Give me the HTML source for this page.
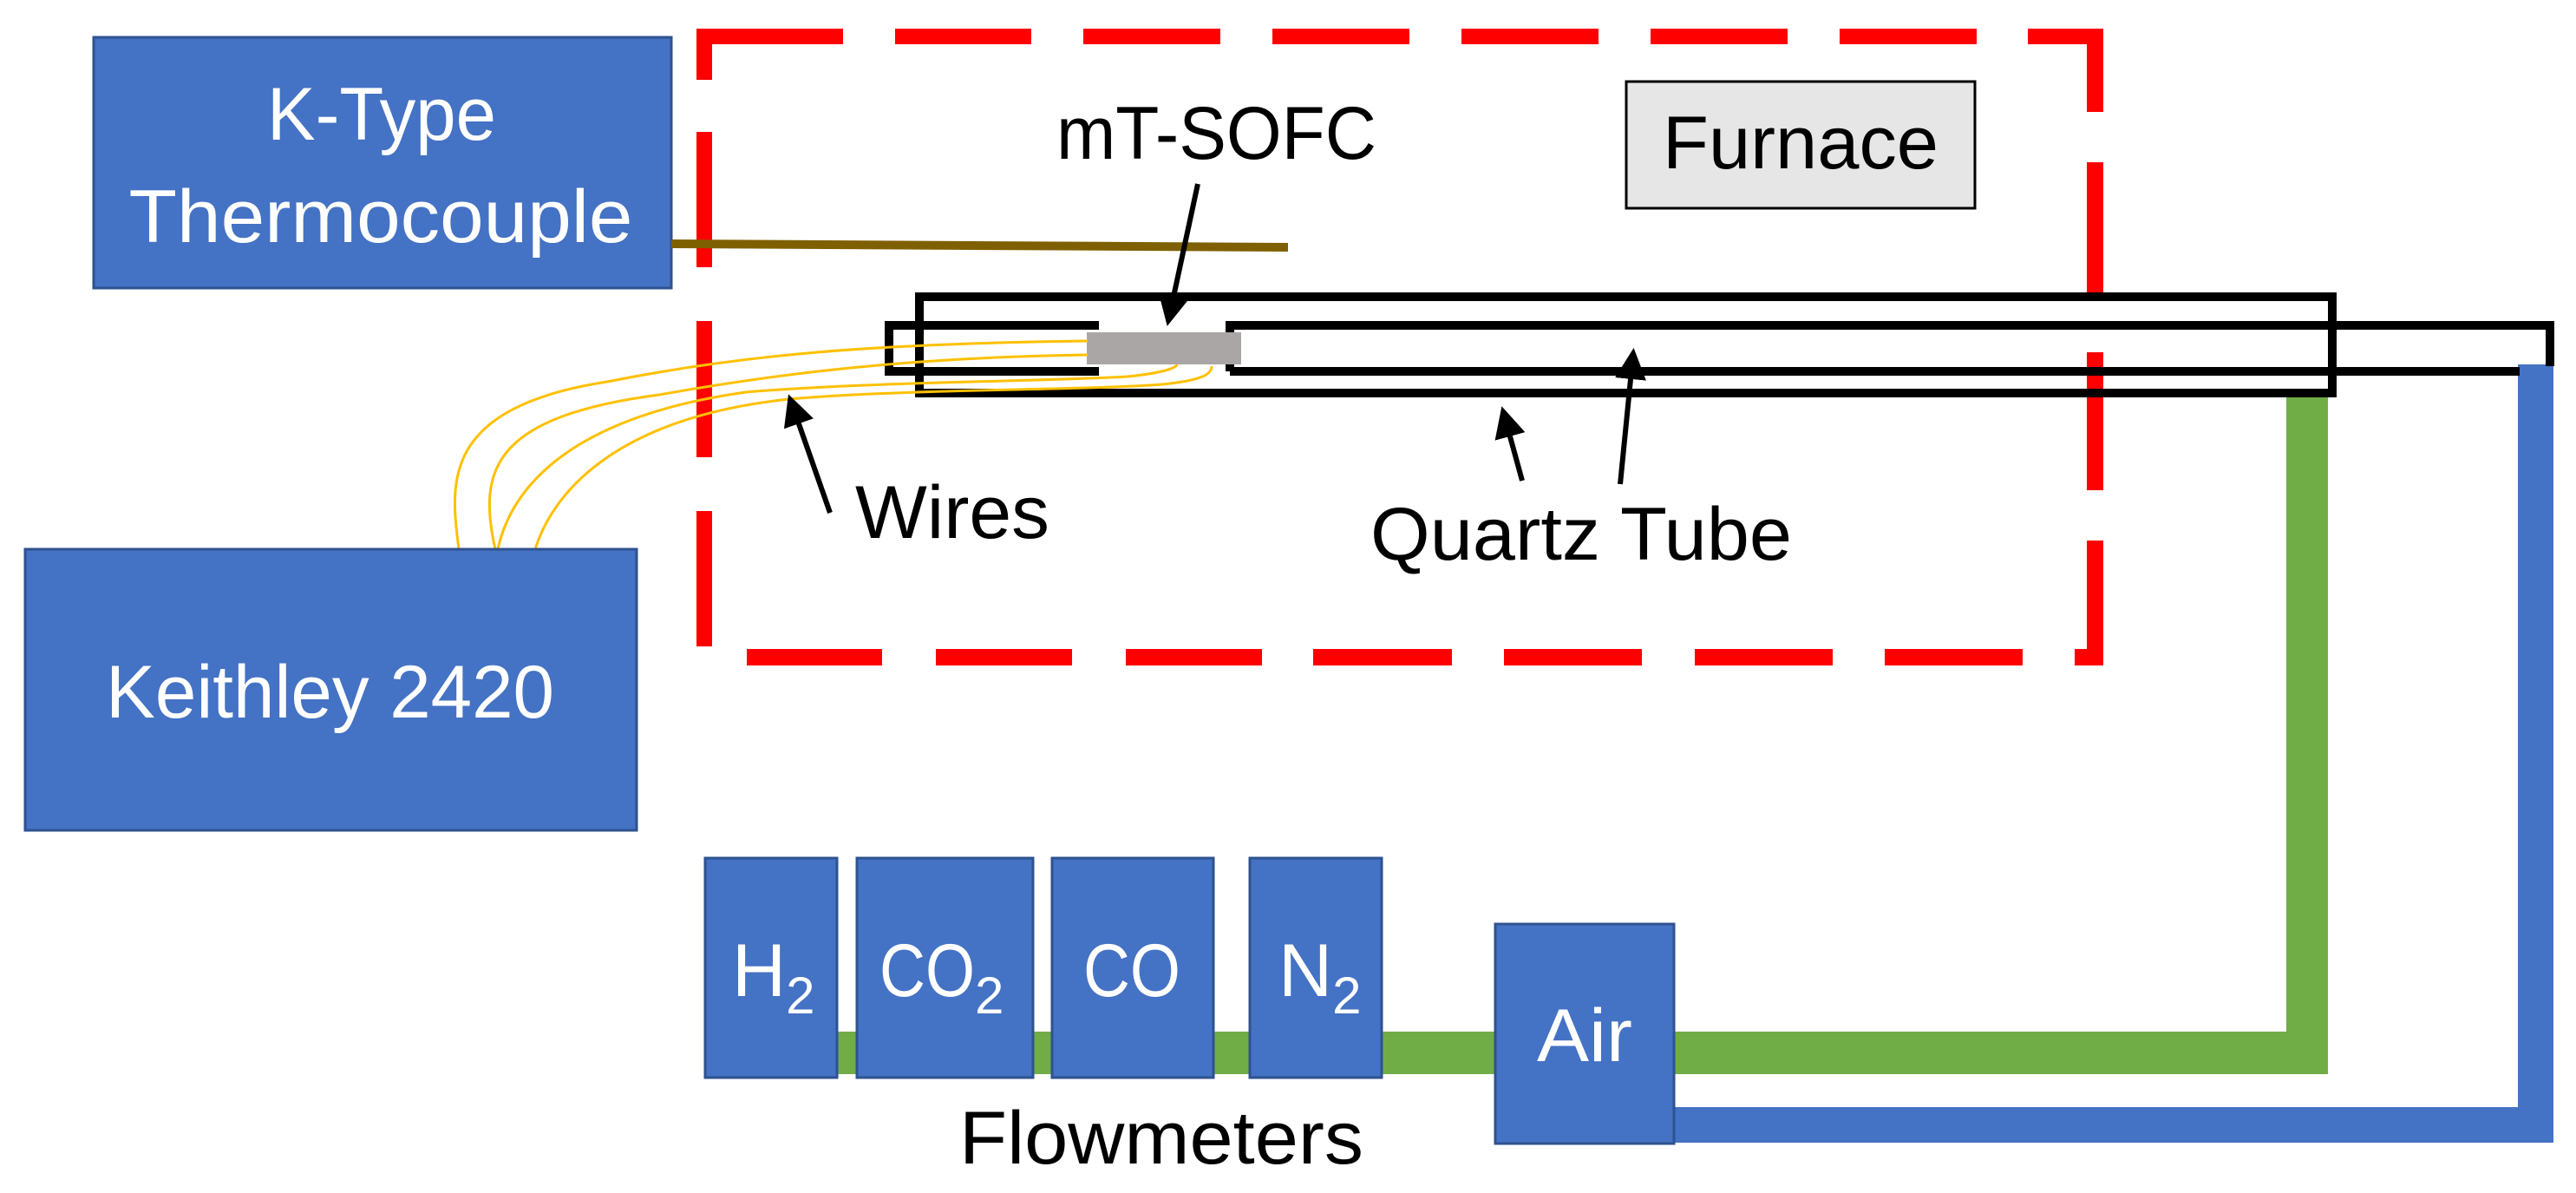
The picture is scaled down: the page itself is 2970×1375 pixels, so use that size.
<!DOCTYPE html>
<html><head><meta charset="utf-8"><style>
html,body{margin:0;padding:0;background:#fff;}
svg{display:block;}
text{font-family:"Liberation Sans",sans-serif;}
</style></head><body>
<svg width="2970" height="1375" viewBox="0 0 2970 1375" xmlns="http://www.w3.org/2000/svg">
<defs>
<marker id="ah" markerWidth="6" markerHeight="6" refX="5" refY="3" orient="auto" markerUnits="strokeWidth">
<path d="M0,0 L6,3 L0,6 Z" fill="#000"/></marker>
</defs>
<!-- pipes -->
<rect x="965" y="1189" width="1719" height="49" fill="#70ad47"/>
<rect x="2636" y="452" width="48" height="786" fill="#70ad47"/>
<rect x="1930" y="1276" width="1014" height="41" fill="#4472c4"/>
<rect x="2903" y="420" width="41" height="897" fill="#4472c4"/>

<!-- red dashed furnace -->
<g fill="#ff0000">
<rect x="804" y="33" width="168" height="18"/>
<rect x="1032" y="33" width="157" height="18"/>
<rect x="1249" y="33" width="158" height="18"/>
<rect x="1467" y="33" width="158" height="18"/>
<rect x="1685" y="33" width="158" height="18"/>
<rect x="1903" y="33" width="158" height="18"/>
<rect x="2121" y="33" width="158" height="18"/>
<rect x="2338" y="33" width="87" height="18"/>
<rect x="2406" y="33" width="19" height="96"/>
<rect x="2406" y="187" width="19" height="159"/>
<rect x="2406" y="406" width="19" height="159"/>
<rect x="2406" y="623" width="19" height="144"/>
<rect x="803" y="33" width="18" height="59"/>
<rect x="803" y="152" width="18" height="156"/>
<rect x="803" y="370" width="18" height="157"/>
<rect x="803" y="589" width="18" height="156"/>
<rect x="861" y="748" width="156" height="19"/>
<rect x="1079" y="748" width="157" height="19"/>
<rect x="1298" y="748" width="157" height="19"/>
<rect x="1514" y="748" width="160" height="19"/>
<rect x="1734" y="748" width="159" height="19"/>
<rect x="1954" y="748" width="159" height="19"/>
<rect x="2173" y="748" width="159" height="19"/>
<rect x="2392" y="748" width="33" height="19"/>
</g>

<!-- Furnace -->
<rect x="1875" y="94" width="402" height="146" fill="#e6e6e6" stroke="#000" stroke-width="3"/>
<text x="2076" y="194" font-size="86" text-anchor="middle" textLength="318" lengthAdjust="spacingAndGlyphs">Furnace</text>

<!-- K-type -->
<rect x="108" y="43" width="666" height="289" fill="#4472c4" stroke="#2f528f" stroke-width="3"/>
<text x="440" y="161" font-size="86" fill="#fff" text-anchor="middle" textLength="264" lengthAdjust="spacingAndGlyphs">K-Type</text>
<text x="439" y="279" font-size="86" fill="#fff" text-anchor="middle" textLength="581" lengthAdjust="spacingAndGlyphs">Thermocouple</text>
<line x1="774" y1="281" x2="1485" y2="285" stroke="#7f6000" stroke-width="10"/>

<!-- tubes -->
<rect x="1060" y="342" width="1629" height="111" fill="none" stroke="#000" stroke-width="10"/>
<path d="M1267,375 L1025,375 L1025,428 L1267,428" fill="none" stroke="#000" stroke-width="10"/>
<path d="M1418,428 L1418,375 L2940,375 L2940,422" fill="none" stroke="#000" stroke-width="10"/>
<path d="M1418,428 L2905,428" fill="none" stroke="#000" stroke-width="10"/>
<rect x="1253" y="383" width="178" height="37" fill="#aaa6a6"/>

<!-- wires -->
<g stroke="#ffc000" stroke-width="3" fill="none">
<path d="M529,633 C520,560 505,470 700,440 C850,410 1000,396 1254,393"/>
<path d="M571,633 C550,540 570,480 760,455 C900,430 1050,412 1254,409"/>
<path d="M574,633 C590,560 660,480 860,452 C1000,440 1200,440 1300,434 C1340,430 1357,424 1357,420"/>
<path d="M617,633 C640,560 720,480 910,460 C1050,448 1250,450 1340,443 C1390,438 1397,430 1397,422"/>
</g>

<!-- arrows -->
<g stroke="#000" stroke-width="6" fill="none" marker-end="url(#ah)">
<line x1="1381" y1="212" x2="1347" y2="370"/>
<line x1="957" y1="591" x2="911" y2="460"/>
<line x1="1755" y1="554" x2="1733" y2="474"/>
<line x1="1868" y1="558" x2="1883" y2="407"/>
</g>

<text x="1218" y="183" font-size="86" textLength="369" lengthAdjust="spacingAndGlyphs">mT-SOFC</text>
<text x="986" y="620" font-size="86" textLength="224" lengthAdjust="spacingAndGlyphs">Wires</text>
<text x="1580" y="645" font-size="86" textLength="486" lengthAdjust="spacingAndGlyphs">Quartz Tube</text>

<!-- Keithley -->
<rect x="29" y="633" width="705" height="324" fill="#4472c4" stroke="#2f528f" stroke-width="3"/>
<text x="122" y="827" font-size="86" fill="#fff" textLength="517" lengthAdjust="spacingAndGlyphs">Keithley 2420</text>

<!-- flowmeters -->
<g fill="#4472c4" stroke="#2f528f" stroke-width="3">
<rect x="813" y="989" width="152" height="253"/>
<rect x="988" y="989" width="203" height="253"/>
<rect x="1213" y="989" width="186" height="253"/>
<rect x="1441" y="989" width="152" height="253"/>
<rect x="1724" y="1065" width="206" height="253"/>
</g>
<g fill="#fff" font-size="86">
<text x="844" y="1148">H<tspan font-size="60" dy="20">2</tspan></text>
<text x="1014" y="1148" textLength="110" lengthAdjust="spacingAndGlyphs">CO</text><text x="1124" y="1168" font-size="60">2</text>
<text x="1249" y="1148" textLength="112" lengthAdjust="spacingAndGlyphs">CO</text>
<text x="1474" y="1148">N<tspan font-size="60" dy="20">2</tspan></text>
<text x="1772" y="1223" textLength="110" lengthAdjust="spacingAndGlyphs">Air</text>
</g>
<text x="1106" y="1341" font-size="86" textLength="466" lengthAdjust="spacingAndGlyphs">Flowmeters</text>
</svg>
</body></html>
